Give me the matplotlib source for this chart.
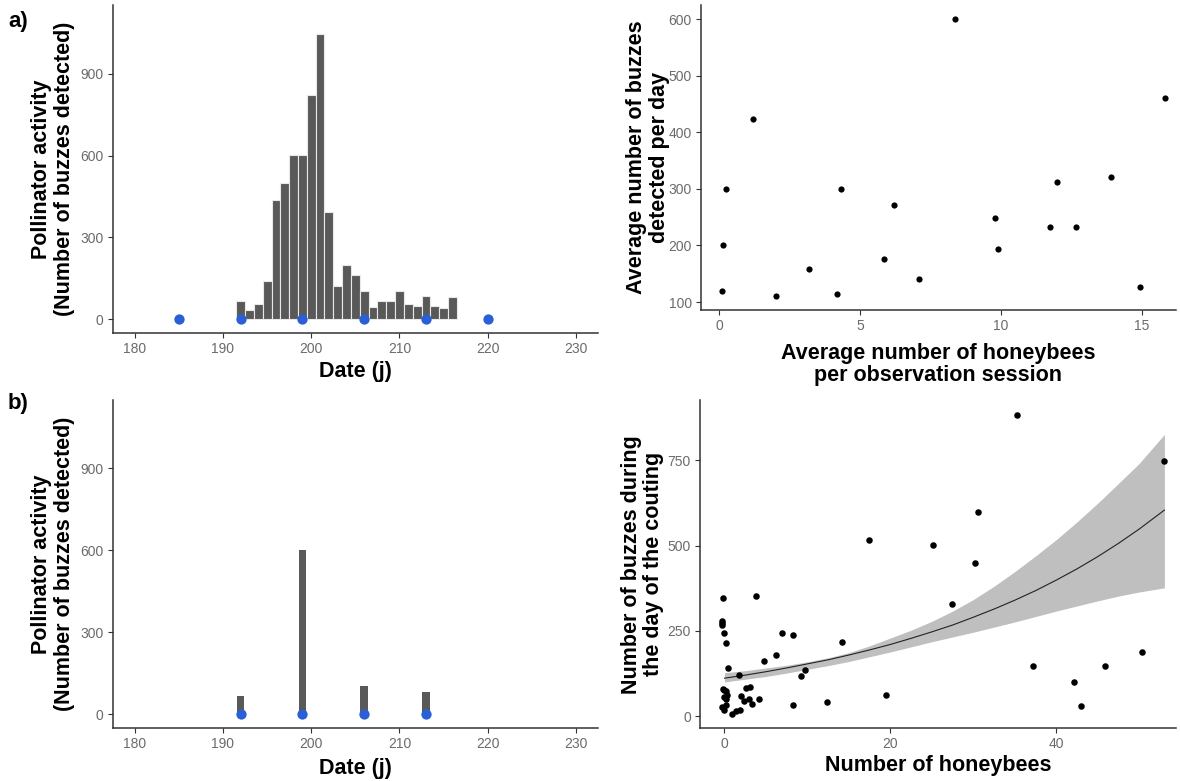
import matplotlib
matplotlib.use("Agg")
import matplotlib.pyplot as plt
import numpy as np

plt.rcParams['font.family'] = ['Liberation Sans', 'DejaVu Sans']

# ---------------- data ----------------
# a) left: daily buzz counts (days 192..216)
days_a = [192, 193, 194, 195, 196, 197, 198, 199, 200, 201, 202, 203, 204,
          205, 206, 207, 208, 209, 210, 211, 212, 213, 214, 215, 216]
buzz_a = [65, 34, 56, 138, 437, 498, 601, 601, 821, 1047, 394, 122, 199,
          160, 104, 46, 65, 65, 104, 54, 49, 84, 49, 39, 80]
sessions_a = [185, 192, 199, 206, 213, 220]

# b) left: counts on observation days
days_b = [192, 199, 206, 213]
buzz_b = [67, 601, 105, 83]
sessions_b = [192, 199, 206, 213]

# a) right: average honeybees vs average buzzes
bees_avg = [0.09, 0.14, 0.24, 1.19, 2.02, 3.19, 4.19, 4.32, 5.86, 6.19,
            7.10, 8.35, 9.77, 9.90, 11.72, 11.98, 12.66, 13.90, 14.94, 15.82]
buzz_avg = [120, 200, 300, 423, 111, 159, 115, 300, 177, 271,
            140, 600, 248, 194, 233, 313, 232, 321, 126, 461]

# b) right: honeybees vs buzzes on the day of counting
bees_n = [35.3, 53.0, 30.6, 17.4, 25.1, 30.2, 27.4, -0.2, 3.8, -0.3, -0.3, -0.3,
          0.0, 0.2, 6.9, 8.3, 14.2, 6.2, 4.8, 0.4, 1.8, 9.75, 9.2, 37.2, 45.8,
          50.3, 42.1, 43.0, 19.4, 12.3, 8.2, 4.2, -0.2, -0.05, 0.16, 0.36, -0.1,
          0.2, -0.24, -0.08, 0.16, 1.96, 2.57, 3.05, 2.37, 3.0, 3.37, 0.88, 1.40, 1.84]
buzz_n = [882, 747, 599, 516, 502, 450, 330, 347, 351, 279, 273, 268,
          244, 213, 244, 237, 216, 179, 161, 141, 120, 134, 116, 147, 147,
          188, 100, 28, 61, 41, 31, 51, 80, 75, 72, 62, 57,
          51, 27, 19, 33, 60, 82, 85, 44, 49, 34, 6, 14, 19]

# fitted curve and confidence band
fit_x = [0, 2.5, 5, 7.5, 10, 12.5, 15, 17.5, 20, 22.5, 25, 27.5, 30, 32.5,
         35, 37.5, 40, 42.5, 45, 47.5, 50, 53]
fit_y = [111, 120, 130, 141, 153, 165, 179, 194, 210, 228, 247, 267, 290, 314,
         340, 368, 399, 432, 468, 507, 549, 604]
fit_hi = [127, 133, 141, 149, 159, 171, 186, 206, 229, 252, 278, 308, 342, 381,
          424, 470, 518, 570, 625, 683, 742, 826]
fit_lo = [100, 108, 116, 126, 137, 148, 160, 174, 188, 203, 218, 232, 246, 261,
          276, 292, 308, 323, 338, 352, 364, 376]

# ---------------- style ----------------
W, H = 1180, 781
fig = plt.figure(figsize=(W / 100, H / 100), dpi=100)

def ax_px(left, top, right, bottom):
    return fig.add_axes([left / W, 1 - bottom / H, (right - left) / W, (bottom - top) / H])

SPINE = '#333333'
TICKC = '#6b6b6b'
BLUE = '#2B5FD6'
BAR = '#595959'
LABFS = 15.5
TICKFS = 10

def classic(ax):
    for s in ['top', 'right']:
        ax.spines[s].set_visible(False)
    for s in ['left', 'bottom']:
        ax.spines[s].set_color(SPINE)
        ax.spines[s].set_linewidth(1.1)
    ax.tick_params(axis='both', direction='out', length=3.5, width=0.8,
                   color=SPINE, labelcolor=TICKC, labelsize=TICKFS, pad=3)

# ---- a) left ----
ax1 = ax_px(112.7, 5, 598, 332.7)
ax1.bar(days_a, buzz_a, width=1.0, color=BAR, edgecolor='#e8e8e8', linewidth=0.8, zorder=2)
ax1.scatter(sessions_a, [0] * len(sessions_a), s=55, color=BLUE, zorder=3, linewidths=0)
ax1.set_xlim(177.5, 232.5)
ax1.set_ylim(-50, 1153)
ax1.set_xticks([180, 190, 200, 210, 220, 230])
ax1.set_yticks([0, 300, 600, 900])
classic(ax1)
ax1.set_xlabel('Date (j)', fontsize=LABFS, fontweight='bold', labelpad=4)
ax1.set_ylabel('Pollinator activity\n(Number of buzzes detected)', fontsize=LABFS,
               fontweight='bold', labelpad=4, linespacing=1.1)

# ---- a) right ----
ax2 = ax_px(700.7, 5, 1176, 310)
ax2.scatter(bees_avg, buzz_avg, s=20, color='black', linewidths=0, zorder=3)
ax2.set_xlim(-0.65, 16.2)
ax2.set_ylim(86, 625)
ax2.set_xticks([0, 5, 10, 15])
ax2.set_yticks([100, 200, 300, 400, 500, 600])
classic(ax2)
ax2.set_xlabel('Average number of honeybees\nper observation session', fontsize=LABFS,
               fontweight='bold', labelpad=7, linespacing=1.05)
ax2.set_ylabel('Average number of buzzes\ndetected per day', fontsize=LABFS,
               fontweight='bold', labelpad=-1, linespacing=1.1)

# ---- b) left ----
ax3 = ax_px(112.7, 400, 598, 728.3)
ax3.bar(days_b, buzz_b, width=0.87, color=BAR, linewidth=0, zorder=2)
ax3.scatter(sessions_b, [0] * len(sessions_b), s=55, color=BLUE, zorder=3, linewidths=0)
ax3.set_xlim(177.5, 232.5)
ax3.set_ylim(-51, 1150)
ax3.set_xticks([180, 190, 200, 210, 220, 230])
ax3.set_yticks([0, 300, 600, 900])
classic(ax3)
ax3.set_xlabel('Date (j)', fontsize=LABFS, fontweight='bold', labelpad=5)
ax3.set_ylabel('Pollinator activity\n(Number of buzzes detected)', fontsize=LABFS,
               fontweight='bold', labelpad=4, linespacing=1.1)

# ---- b) right ----
ax4 = ax_px(700, 400, 1176, 728.3)
ax4.fill_between(fit_x, fit_lo, fit_hi, color='#bfbfbf', linewidth=0, zorder=1)
ax4.plot(fit_x, fit_y, color='#222222', linewidth=0.8, zorder=2)
ax4.scatter(bees_n, buzz_n, s=22, color='black', linewidths=0, zorder=3)
ax4.set_xlim(-2.95, 54.4)
ax4.set_ylim(-36, 927)
ax4.set_xticks([0, 20, 40])
ax4.set_yticks([0, 250, 500, 750])
classic(ax4)
ax4.set_xlabel('Number of honeybees', fontsize=LABFS, fontweight='bold', labelpad=3)
ax4.set_ylabel('Number of buzzes during\nthe day of the couting', fontsize=LABFS,
               fontweight='bold', labelpad=2.5, linespacing=1.1)

# panel letters
fig.text(8 / W, 1 - 22 / H, 'a)', fontsize=16, fontweight='bold', va='center', ha='left')
fig.text(8 / W, 1 - 404 / H, 'b)', fontsize=16, fontweight='bold', va='center', ha='left')

fig.savefig('out.png', dpi=100)
